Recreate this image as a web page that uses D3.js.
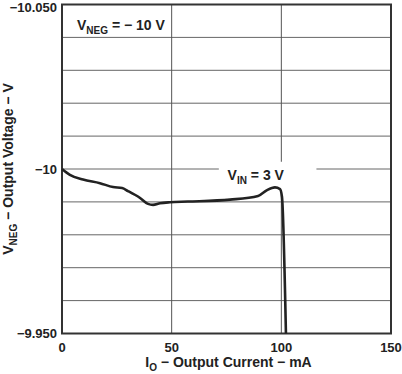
<!DOCTYPE html>
<html>
<head>
<meta charset="utf-8">
<script src="https://cdn.jsdelivr.net/npm/d3@7"></script>
<style>
  body { margin: 0; background: #fff; }
  text { font-family: "Liberation Sans", Arial, sans-serif; font-weight: bold; fill: #222; }
</style>
</head>
<body>
<div id="chart"></div>
<script>
// output current (mA) and output voltage (V)
var currentMA = [0, 3.6, 9.6, 17.3, 23.3, 27.4, 30.1, 35.6, 39.2, 41.5, 44.7, 49.2, 57.4, 76.6, 89.4, 93.5, 97.1, 99.4, 100.3, 102.1];
var voltageV = [-10.000, -9.9982, -9.9968, -9.9957, -9.9945, -9.9942, -9.9933, -9.9912, -9.9894, -9.9891, -9.9896, -9.9899, -9.9901, -9.9907, -9.9918, -9.9936, -9.9944, -9.9939, -9.9915, -9.950];

var xTicks = [0, 50, 100, 150];
var yTicks = [-10.05, -10, -9.95];
var yTickLabels = ["\u221210.050", "\u221210", "\u22129.950"];
var yGrid = [-10.04, -10.03, -10.02, -10.01, -10, -9.99, -9.98, -9.97, -9.96];
var xGrid = [50, 100];

var margin = {top: 4.5, right: 11, bottom: 40.5, left: 62},
    width = 402 - margin.left - margin.right,
    height = 374 - margin.top - margin.bottom;

var svg = d3.select("#chart")
    .append("svg")
    .attr("width", 402)
    .attr("height", 374)
    .append("g")
    .attr("transform", "translate(" + margin.left + "," + margin.top + ")");

var x = d3.scaleLinear().domain([0, 150]).range([0, width]);
// axis runs -10.050 at the top down to -9.950 at the bottom
var y = d3.scaleLinear().domain([-10.05, -9.95]).range([0, height]);

// grid
svg.append("g")
    .selectAll("line")
    .data(yGrid)
    .enter()
    .append("line")
    .attr("x1", 0)
    .attr("x2", width)
    .attr("y1", d => y(d))
    .attr("y2", d => y(d))
    .style("stroke", "#666")
    .style("stroke-width", 1);

svg.append("g")
    .selectAll("line")
    .data(xGrid)
    .enter()
    .append("line")
    .attr("x1", d => x(d))
    .attr("x2", d => x(d))
    .attr("y1", 0)
    .attr("y2", height)
    .style("stroke", "#555")
    .style("stroke-width", 1);

// white patch behind the VIN label breaks the grid
svg.append("rect")
    .attr("x", x(71.5))
    .attr("y", y(-10.0022))
    .attr("width", x(44.5))
    .attr("height", y(-9.9936) - y(-10.0022))
    .style("fill", "#fff");

// frame
svg.append("rect")
    .attr("x", 0)
    .attr("y", 0)
    .attr("width", width)
    .attr("height", height)
    .style("fill", "none")
    .style("stroke", "#333")
    .style("stroke-width", 2);

// curve
var pts = currentMA.map((c, i) => [c, voltageV[i]]);
var line = d3.line()
    .x(d => x(d[0]))
    .y(d => y(d[1]))
    .curve(d3.curveMonotoneX);

svg.append("path")
    .datum(pts)
    .attr("d", line)
    .style("fill", "none")
    .style("stroke", "#222")
    .style("stroke-width", 2.6)
    .style("stroke-linejoin", "round");

// tick labels
svg.append("g")
    .selectAll("text")
    .data(xTicks)
    .enter()
    .append("text")
    .attr("x", d => x(d))
    .attr("y", height + 18)
    .attr("text-anchor", "middle")
    .style("font-size", "13px")
    .text(d => d);

svg.append("g")
    .selectAll("text")
    .data(yTicks)
    .enter()
    .append("text")
    .attr("x", -5)
    .attr("y", d => y(d))
    .attr("dy", (d, i) => i == 0 ? "0.6em" : "0.36em")
    .attr("text-anchor", "end")
    .style("font-size", "13px")
    .text((d, i) => yTickLabels[i]);

// helper for text with a subscript part
function subText(g, main, sub, rest) {
    g.append("tspan").text(main);
    g.append("tspan").attr("dy", 4).style("font-size", "10px").text(sub);
    g.append("tspan").attr("dy", -4).text(rest);
}

var xTitle = svg.append("text")
    .attr("x", width / 2 + 2)
    .attr("y", height + 33)
    .attr("text-anchor", "middle")
    .style("font-size", "14px");
subText(xTitle, "I", "O", " \u2212 Output Current \u2212 mA");

var yTitle = svg.append("text")
    .attr("transform", "translate(" + (13 - margin.left) + "," + (height / 2) + ") rotate(-90)")
    .attr("text-anchor", "middle")
    .style("font-size", "14px");
subText(yTitle, "V", "NEG", " \u2212 Output Voltage \u2212 V");

var negLabel = svg.append("text")
    .attr("x", 15)
    .attr("y", 25.5)
    .style("font-size", "14px");
subText(negLabel, "V", "NEG", " = \u2212 10 V");

var inLabel = svg.append("text")
    .attr("x", x(75.5))
    .attr("y", y(-9.9966))
    .style("font-size", "14px");
subText(inLabel, "V", "IN", " = 3 V");
</script>
</body>
</html>
